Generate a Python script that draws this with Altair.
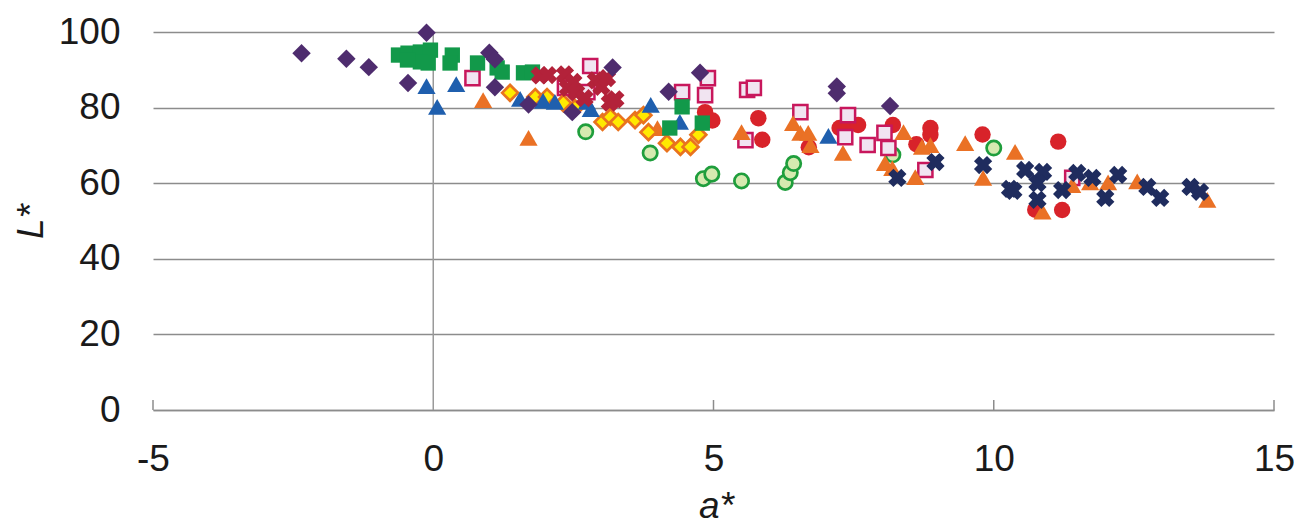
import altair as alt
import pandas as pd

# a*, L* readings for each sample group
purple_a = [-2.35, -1.55, -1.15, -0.45, -0.12, 1.0, 1.1, 1.1, 1.7, 2.48, 3.2, 4.2, 4.76, 7.2, 7.2, 8.15]
purple_L = [94.4, 92.9, 90.7, 86.5, 99.8, 94.5, 92.8, 85.4, 80.8, 78.8, 90.6, 84.2, 89.2, 85.6, 83.8, 80.4]

green_sq_a = [-0.62, -0.45, -0.23, -0.05, -0.09, -0.23, -0.46, 0.34, 0.30, 0.79, 1.14, 1.23, 1.61, 1.77,
              4.44, 4.22, 4.80]
green_sq_L = [93.9, 94.4, 94.7, 95.2, 91.8, 92.1, 92.6, 93.9, 91.8, 91.8, 90.5, 89.4, 89.2, 89.4,
              80.2, 74.6, 75.9]

blue_a = [-0.12, 0.07, 0.41, 1.55, 1.96, 2.17, 2.74, 2.81, 3.88, 4.40, 7.05]
blue_L = [85.7, 80.2, 86.2, 82.3, 81.8, 81.5, 81.5, 79.6, 80.7, 76.2, 72.5]

crimson_a = [1.9, 2.05, 2.35, 2.4, 2.5, 2.55, 2.7, 2.9, 3.0, 3.1, 3.15, 3.25]
crimson_L = [88.5, 88.6, 88.8, 85.2, 86.8, 84.0, 82.5, 87.2, 85.5, 87.8, 81.3, 82.2]

pink_a = [0.7, 2.35, 2.75, 2.8, 4.44, 4.85, 4.9, 5.6, 5.72, 5.57, 6.55, 7.4, 7.35, 7.75, 8.05, 8.12, 8.78, 11.4]
pink_L = [87.8, 85.2, 84.1, 91.0, 84.1, 83.3, 87.8, 84.7, 85.2, 71.4, 78.8, 78.0, 72.2, 70.1, 73.3, 69.3, 63.5, 61.4]

yellow_a = [1.37, 1.82, 2.03, 2.32, 2.53, 3.02, 3.16, 3.3, 3.6, 3.75, 3.84, 4.17, 4.41, 4.59, 4.73]
yellow_L = [83.9, 82.8, 82.8, 81.2, 79.9, 76.2, 77.5, 76.2, 76.7, 78.0, 73.5, 70.6, 69.6, 69.6, 72.8]

lime_a = [2.72, 3.87, 4.82, 4.97, 5.5, 6.28, 6.37, 6.43, 8.2, 10.0]
lime_L = [73.6, 68.0, 61.2, 62.4, 60.6, 60.2, 62.8, 65.2, 67.5, 69.3]

red_a = [4.85, 4.98, 5.8, 5.87, 6.7, 7.25, 7.42, 7.58, 8.2, 8.87, 8.87, 8.62, 9.8, 11.15, 10.74, 11.22]
red_L = [78.8, 76.6, 77.2, 71.5, 69.5, 74.6, 75.6, 75.4, 75.4, 74.6, 72.8, 70.3, 72.9, 71.0, 53.0, 52.9]

orange_a = [0.89, 1.7, 4.0, 5.5, 6.42, 6.55, 6.69, 6.73, 7.31, 8.06, 8.19, 8.39, 8.6, 8.72, 8.87, 9.49,
            9.81, 10.38, 10.87, 11.4, 11.72, 12.04, 12.56, 13.81]
orange_L = [82.0, 72.0, 74.6, 73.5, 75.9, 73.3, 73.3, 70.1, 68.0, 65.3, 64.0, 73.5, 61.6, 69.6, 70.1, 70.6,
            61.4, 68.3, 52.5, 59.5, 60.2, 60.2, 60.5, 55.6]

navy_a = [8.28, 8.96, 9.81, 10.29, 10.35, 10.56, 10.88, 10.78, 10.78, 11.22, 11.49, 11.76, 11.99, 12.22,
          12.74, 12.97, 13.51, 13.68]
navy_L = [61.4, 65.6, 64.8, 58.5, 58.0, 63.5, 63.0, 60.0, 55.6, 58.2, 62.7, 61.4, 56.1, 62.2,
          59.0, 56.1, 59.0, 57.7]

x_ticks = [-5, 0, 5, 10, 15]
y_ticks = [0, 20, 40, 60, 80, 100]
minor_x = [-5, 5, 10, 15]

W, H = 1121, 378
FONT = "Liberation Sans"
FS = 37
GRID = "#8c8c8c"
INK = "#1a1a1a"

xs = alt.Scale(domain=[-5, 15], nice=False, zero=False)
ys = alt.Scale(domain=[0, 100], nice=False, zero=False)

x_axis = alt.Axis(values=x_ticks, grid=False, ticks=False, domain=True, domainColor=GRID, domainWidth=1.5,
                  labelPadding=31, labelFontSize=FS, labelColor=INK, labelFlush=False,
                  labelExpr="'' + datum.value",
                  title="a*", titleFontStyle="italic", titleFontWeight="normal", titleFontSize=FS,
                  titleColor=INK, titleX=563, titleY=107, titleBaseline="alphabetic")
y_axis = alt.Axis(values=y_ticks, grid=True, gridColor=GRID, gridWidth=1.5, ticks=False, domain=False,
                  labelPadding=33, labelFontSize=FS, labelColor=INK, labelFlush=False,
                  title="L*", titleFontStyle="italic", titleFontWeight="normal", titleFontSize=FS,
                  titleColor=INK, titleX=-122, titleY=189, titleAngle=270,
                  titleAlign="center", titleBaseline="middle")


def frame(a, L):
    return pd.DataFrame({"a": a, "L": L})


def enc():
    return dict(x=alt.X("a:Q", scale=xs, axis=x_axis), y=alt.Y("L:Q", scale=ys, axis=y_axis))


def pts(a, L, **mark):
    return alt.Chart(frame(a, L)).mark_point(opacity=1, **mark).encode(**enc())


# vertical axis line through a* = 0
zero_line = alt.Chart(pd.DataFrame({"a": [0]})).mark_rule(color="#9a9a9a", strokeWidth=1.5).encode(
    x=alt.X("a:Q", scale=xs, axis=x_axis), y=alt.value(0), y2=alt.value(H))

# inward tick marks on the a* axis
tick_marks = alt.Chart(pd.DataFrame({"a": minor_x})).mark_rule(color=GRID, strokeWidth=1.5).encode(
    x=alt.X("a:Q", scale=xs, axis=x_axis), y=alt.value(H - 10), y2=alt.value(H))

layers = [
    zero_line,
    tick_marks,
    pts(lime_a, lime_L, shape="circle", filled=True, fill="#d6eab0", stroke="#1f9e3c", strokeWidth=2.7, size=205),
    pts(red_a, red_L, shape="circle", filled=True, color="#d8232a", size=270),
    pts(pink_a, pink_L, shape="square", filled=True, fill="#f1e4f1", stroke="#c8175c", strokeWidth=2.5, size=200),
    pts(orange_a, orange_L, shape="triangle-up", filled=True, color="#ea7125", size=330),
    pts(navy_a, navy_L, shape="cross", angle=45, filled=True, color="#1f2c5e", size=340),
    pts(yellow_a, yellow_L, shape="diamond", filled=True, fill="#ffea00", stroke="#e9731e", strokeWidth=2.7, size=250),
    pts(blue_a, blue_L, shape="triangle-up", filled=True, color="#1f5fae", size=330),
    pts(green_sq_a, green_sq_L, shape="square", filled=True, color="#12994a", size=235),
    pts(crimson_a, crimson_L, shape="cross", angle=45, filled=True, color="#b3223a", size=340),
    pts(purple_a, purple_L, shape="diamond", filled=True, color="#4e2c6e", size=340),
]

chart = alt.layer(*layers).properties(
    width=W, height=H,
    autosize=alt.AutoSizeParams(type="none"),
    padding={"left": 153, "top": 32, "right": 20, "bottom": 115},
    background="white",
).configure(font=FONT).configure_view(stroke=None)

chart.save("out.html", embed_options={"renderer": "svg", "actions": False})
